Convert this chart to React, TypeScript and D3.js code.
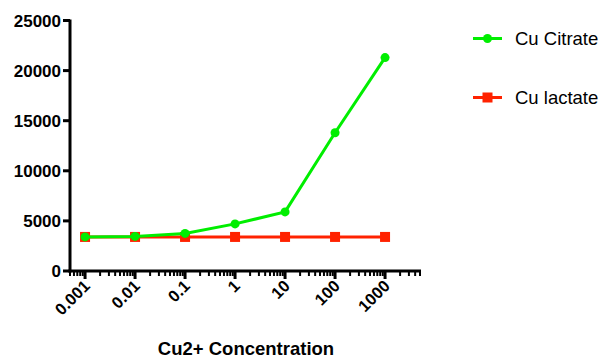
import React from "react";
import * as d3 from "d3";

const concentrations = [0.001, 0.01, 0.1, 1, 10, 100, 1000];
const citrateValues = [3400, 3450, 3750, 4700, 5900, 13800, 21300];
const lactateValues = [3400, 3400, 3400, 3400, 3400, 3400, 3400];
const yTicks = [0, 5000, 10000, 15000, 20000, 25000];
const xTickLabels = ["0.001", "0.01", "0.1", "1", "10", "100", "1000"];
const seriesNames = ["Cu Citrate", "Cu lactate"];
const xTitle = "Cu2+ Concentration";

const W = 602;
const H = 358;
const GREEN = "#00ee00";
const RED = "#ff2200";

export default function App() {
  const x = d3.scaleLog().domain([0.0005, 5000]).range([70, 420]);
  const y = d3.scaleLinear().domain([0, 25000]).range([271, 20.5]);
  const line = d3
    .line<[number, number]>()
    .x((d) => x(d[0]))
    .y((d) => y(d[1]));

  const citrate = concentrations.map((c, i) => [c, citrateValues[i]] as [number, number]);
  const lactate = concentrations.map((c, i) => [c, lactateValues[i]] as [number, number]);

  // minor ticks: every integer multiple within each decade
  const minor: number[] = [];
  for (let e = -4; e <= 3; e++) {
    for (let m = 1; m <= 9; m++) {
      const v = m * Math.pow(10, e);
      if (v >= 0.0005 && v <= 5000) minor.push(v);
    }
  }
  const font = "'Liberation Sans', Arial, sans-serif";

  return (
    <svg width={W} height={H} style={{ position: "absolute", left: 0, top: 0 }}>
      <rect width={W} height={H} fill="#fff" />
      {/* y axis */}
      <line x1={70} x2={70} y1={y(25000) - 1} y2={y(0) + 1.5} stroke="#000" strokeWidth={3} />
      {yTicks.map((t) => (
        <g key={t}>
          <line x1={63} x2={70} y1={y(t)} y2={y(t)} stroke="#000" strokeWidth={3} />
          <text x={61} y={y(t) + 6} textAnchor="end" fontFamily={font} fontWeight="bold" fontSize={17} fill="#000">
            {t}
          </text>
        </g>
      ))}
      {/* x axis */}
      <line x1={68.5} x2={421} y1={y(0)} y2={y(0)} stroke="#000" strokeWidth={3} />
      {minor.map((v, i) => {
        const major = concentrations.includes(v);
        return (
          <line
            key={i}
            x1={x(v)}
            x2={x(v)}
            y1={y(0)}
            y2={y(0) + (major ? 8 : 5)}
            stroke="#000"
            strokeWidth={major ? 3 : 2}
          />
        );
      })}
      {concentrations.map((c, i) => (
        <text
          key={c}
          transform={`translate(${x(c) + 6},${y(0) + 16}) rotate(-45)`}
          textAnchor="end"
          fontFamily={font}
          fontWeight="bold"
          fontSize={16.5}
          fill="#000"
        >
          {xTickLabels[i]}
        </text>
      ))}
      <text x={246} y={355} textAnchor="middle" fontFamily={font} fontWeight="bold" fontSize={18.5} fill="#000">
        {xTitle}
      </text>

      {/* Cu lactate */}
      <path d={line(lactate) ?? ""} fill="none" stroke={RED} strokeWidth={3} />
      {lactate.map((d, i) => (
        <rect key={i} x={x(d[0]) - 5} y={y(d[1]) - 5} width={10} height={10} fill={RED} />
      ))}
      {/* Cu Citrate */}
      <path d={line(citrate) ?? ""} fill="none" stroke={GREEN} strokeWidth={3} />
      {citrate.map((d, i) => (
        <circle key={i} cx={x(d[0])} cy={y(d[1])} r={4.5} fill={GREEN} />
      ))}

      {/* legend */}
      <line x1={473} x2={502} y1={38.5} y2={38.5} stroke={GREEN} strokeWidth={3} />
      <circle cx={487.5} cy={38.5} r={4.5} fill={GREEN} />
      <text x={515} y={45} fontFamily={font} fontSize={18.5} fill="#000">
        {seriesNames[0]}
      </text>
      <line x1={473} x2={502} y1={97.5} y2={97.5} stroke={RED} strokeWidth={3} />
      <rect x={482.5} y={92.5} width={10} height={10} fill={RED} />
      <text x={515} y={104} fontFamily={font} fontSize={18.5} fill="#000">
        {seriesNames[1]}
      </text>
    </svg>
  );
}
